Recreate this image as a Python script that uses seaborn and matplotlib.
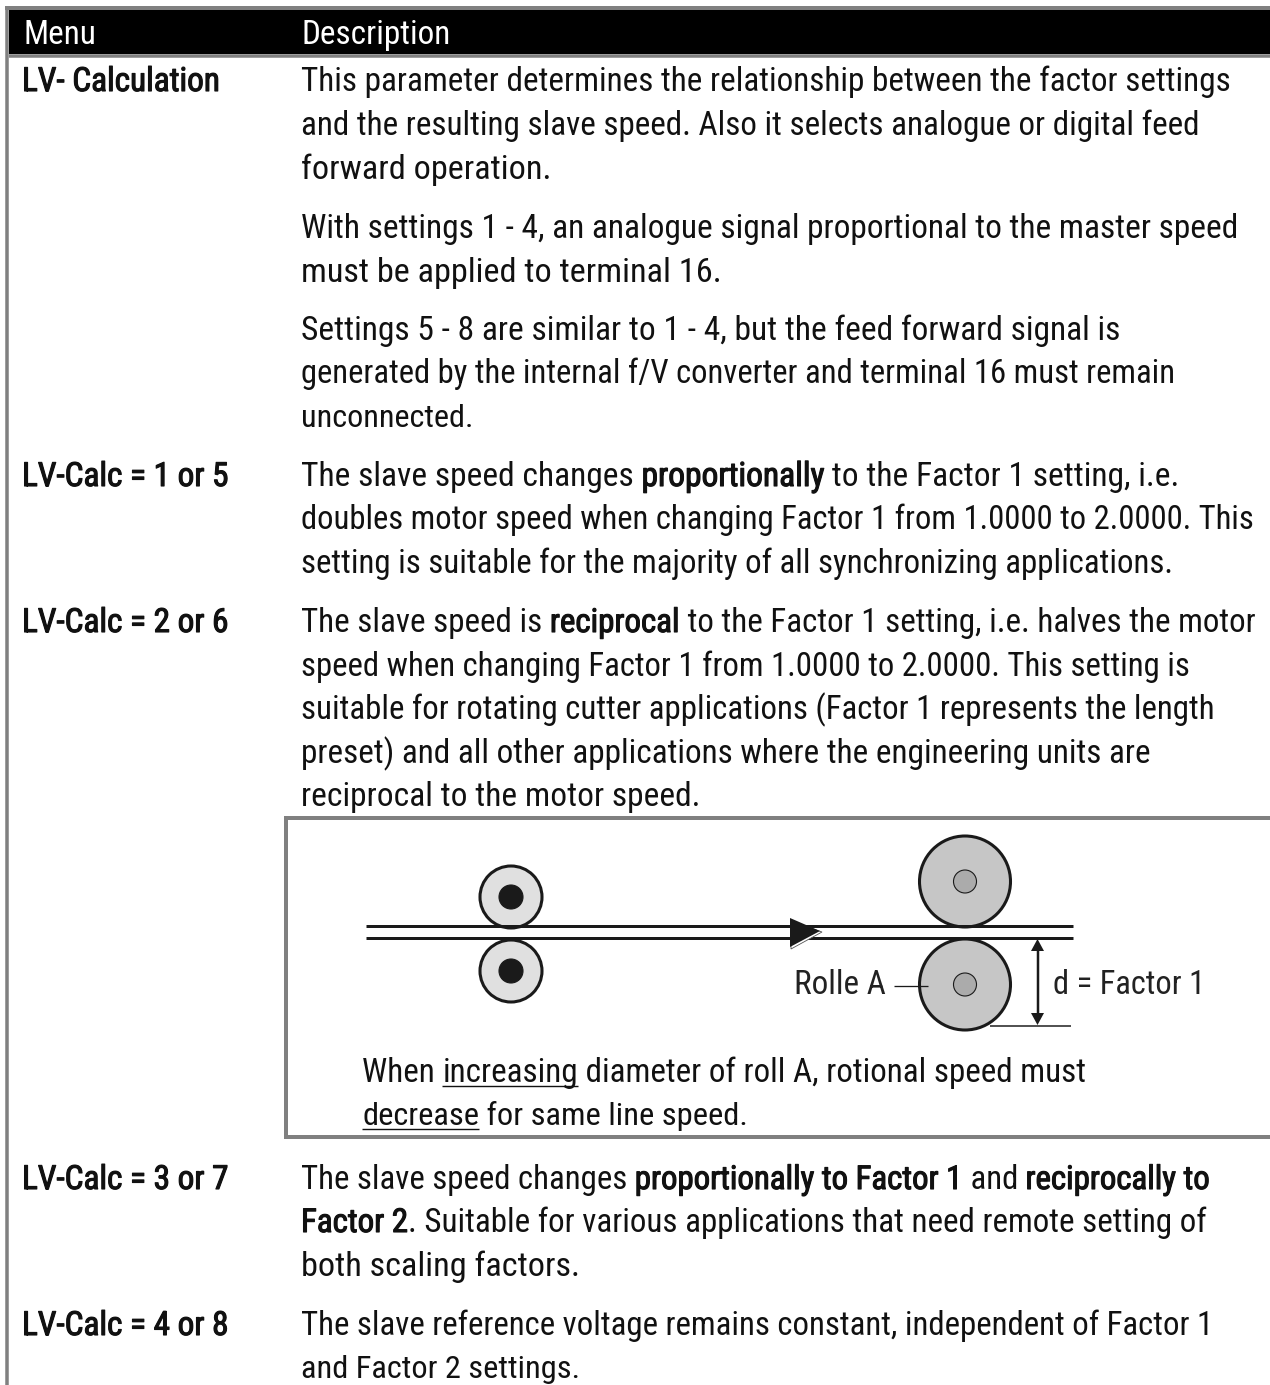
import re
import matplotlib
matplotlib.use("Agg")
import matplotlib.pyplot as plt
import matplotlib.patheffects as pe
from matplotlib.patches import Circle, Polygon
import pandas as pd
import seaborn as sns

# table text; ** = heavy, __ = underlined
header = ["Menu", "Description"]
menu_items = ["LV- Calculation", "LV-Calc = 1 or 5", "LV-Calc = 2 or 6", "LV-Calc = 3 or 7", "LV-Calc = 4 or 8"]
desc_lines = [
    "This parameter determines the relationship between the factor settings",
    "and the resulting slave speed. Also it selects analogue or digital feed",
    "forward operation.",
    "With settings 1 - 4, an analogue signal proportional to the master speed",
    "must be applied to terminal 16.",
    "Settings 5 - 8 are similar to 1 - 4, but the feed forward signal is",
    "generated by the internal f/V converter and terminal 16 must remain",
    "unconnected.",
    "The slave speed changes **proportionally** to the Factor 1 setting, i.e.",
    "doubles motor speed when changing Factor 1 from 1.0000 to 2.0000. This",
    "setting is suitable for the majority of all synchronizing applications.",
    "The slave speed is **reciprocal** to the Factor 1 setting, i.e. halves the motor",
    "speed when changing Factor 1 from 1.0000 to 2.0000. This setting is",
    "suitable for rotating cutter applications (Factor 1 represents the length",
    "preset) and all other applications where the engineering units are",
    "reciprocal to the motor speed.",
    "The slave speed changes **proportionally to Factor 1** and **reciprocally to**",
    "**Factor 2**. Suitable for various applications that need remote setting of",
    "both scaling factors.",
    "The slave reference voltage remains constant, independent of Factor 1",
    "and Factor 2 settings.",
]
note_lines = ["When __increasing__ diameter of roll A, rotional speed must",
              "__decrease__ for same line speed."]
roller_labels = ["Rolle A", "d = Factor 1"]

# layout, in pixels of the 1270x1385 picture
menu_rows = [91, 486, 632, 1189, 1335]
desc_rows = [91, 135, 179, 238, 282, 340, 383, 427, 486, 529, 573, 632, 676, 719, 763, 806, 1189, 1232, 1276, 1335, 1378]
desc_ends = [1230, 1199, 569, 1238, 737, 1120, 1173, 472, 1178, 1254, 1171, 1252, 1188, 1213, 1152, 700, 1209, 1204, 591, 1214, 580]
note_rows = [1082, 1125]
note_ends = [1086, 747]

sns.set_theme(style="white")
plt.rcParams["font.family"] = ["Roboto Condensed", "Barlow Semi Condensed", "Liberation Sans", "DejaVu Sans"]

INK = "#111111"
GREY = "#808080"

fig = plt.figure(figsize=(12.7, 13.85), dpi=100)
ax = fig.add_axes([0, 0, 1, 1])
ax.set_xlim(0, 1270)
ax.set_ylim(1385, 0)
ax.axis("off")
rend = fig.canvas.get_renderer()


def text_width(s, size):
    probe = ax.text(0, 0, s.replace(" ", "\u00a0"), fontsize=size, alpha=0)
    w = probe.get_window_extent(rend).width
    probe.remove()
    return w


# size the type so the first description line spans the same width as the reference
FS = 20 * 929 / text_width(desc_lines[0], 20)


def rule(x0, x1, y0, y1, width, color=GREY):
    line = pd.DataFrame({"x": [x0, x1], "y": [y0, y1]})
    sns.lineplot(data=line, x="x", y="y", color=color, lw=width * 0.72, ax=ax,
                 estimator=None, sort=False, solid_capstyle="butt")


def heavy(t):
    t.set_path_effects([pe.withStroke(linewidth=0.8, foreground=INK)])


def rich(x, y, s, end):
    parts = [p for p in re.split(r"(\*\*.+?\*\*|__.+?__)", s) if p]
    plain = "".join(p.strip("*_") for p in parts)
    # small per-line correction so the line ends where the reference line ends
    size = FS * min(1.03, max(0.97, (end - x) / text_width(plain, FS)))
    for part in parts:
        body = part.strip("*_")
        t = ax.text(x, y, body, fontsize=size, color=INK, va="baseline", ha="left")
        w = text_width(body, size)
        if part.startswith("**"):
            heavy(t)
        if part.startswith("__"):
            rule(x, x + w, y + 4, y + 4, 1.4, INK)
        x += w


# frame
ax.fill_between([9, 1270], 10, 54, color="black", lw=0)
rule(5, 1270, 7.5, 7.5, 4)
rule(9, 1270, 55.5, 55.5, 3.5)
rule(6.5, 6.5, 6, 1385, 3.5)

ax.text(23, 44, header[0], color="white", fontsize=FS, va="baseline")
ax.text(301, 44, header[1], color="white", fontsize=FS, va="baseline")

for label, y in zip(menu_items, menu_rows):
    heavy(ax.text(22, y, label, fontsize=FS, color=INK, va="baseline"))
for line, y, end in zip(desc_lines, desc_rows, desc_ends):
    rich(301, y, line, end)

# drawing box
rule(285, 1270, 817.5, 817.5, 4)
rule(285, 1270, 1137, 1137, 4)
rule(286, 286, 816, 1139, 4)

# rollers
for cx, cy, r, hole, fill, core in [(511, 897, 31, 12, "#e0e0e0", "#1a1a1a"),
                                    (511, 971, 31, 12, "#e0e0e0", "#1a1a1a"),
                                    (965, 881.5, 45.5, 11.5, "#c6c6c6", "#ababab"),
                                    (965, 984.5, 45.5, 11.5, "#c6c6c6", "#ababab")]:
    ax.add_patch(Circle((cx, cy), r, fc=fill, ec="#1a1a1a", lw=2.2, zorder=2))
    ax.add_patch(Circle((cx, cy), hole, fc=core, ec="#1a1a1a", lw=0.8, zorder=3))

# belt and arrow
rule(366, 1073, 926, 926, 3, "#1a1a1a")
rule(366, 1073, 937.5, 937.5, 3, "#1a1a1a")
ax.add_patch(Polygon([(791, 921), (822, 932), (791, 949)], fc="white", ec="#555555", lw=0.6, zorder=4))
ax.add_patch(Polygon([(790, 918), (820, 931), (790, 947)], fc="#1a1a1a", ec="none", zorder=5))

# dimension
rule(1037.5, 1037.5, 945, 1018, 2.5, "#1a1a1a")
ax.add_patch(Polygon([(1037.5, 939), (1031, 951), (1044, 951)], fc="#1a1a1a", ec="none"))
ax.add_patch(Polygon([(1037.5, 1025), (1031, 1013), (1044, 1013)], fc="#1a1a1a", ec="none"))
rule(990, 1071, 1026, 1026, 1.5, "#1a1a1a")
rule(894, 928, 986, 986, 1.3, "#1a1a1a")

ax.text(794, 994, roller_labels[0], fontsize=FS, color="#222222", va="baseline")
ax.text(1053, 994, roller_labels[1], fontsize=FS * 0.98, color="#222222", va="baseline")

for line, y, end in zip(note_lines, note_rows, note_ends):
    rich(362, y, line, end)

fig.savefig("out.png", dpi=100)
